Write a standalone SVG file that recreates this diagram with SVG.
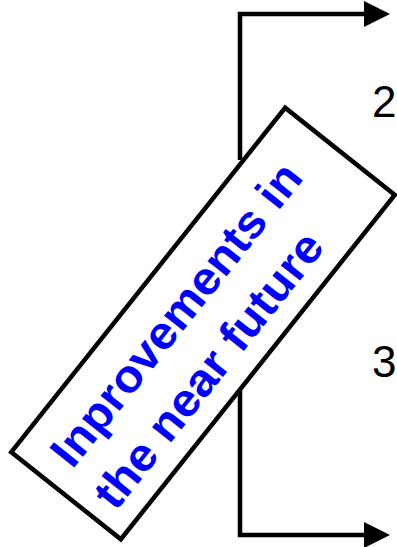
<svg xmlns="http://www.w3.org/2000/svg" width="397" height="547" viewBox="0 0 397 547">
<style>
.ln{fill:none;stroke:#000;stroke-width:4.5;stroke-linejoin:miter}
.box{fill:#fff;stroke:#000;stroke-width:4.5}
.lbl{font-family:"Liberation Sans",Arial,sans-serif;font-size:44px;fill:#000}
.bt{font-family:"Liberation Sans",Arial,sans-serif;font-size:46px;font-weight:bold;fill:#0000ff}
</style>
<defs>
<marker id="ah" markerUnits="userSpaceOnUse" markerWidth="27" markerHeight="26" refX="1" refY="13" orient="auto">
<path d="M0,0 L26,13 L0,26 Z" fill="#000"/>
</marker>
</defs>
<g id="connectors">
<path class="ln" d="M240,160 V14 H365" marker-end="url(#ah)"/>
<path class="ln" d="M240,390 V535 H365" marker-end="url(#ah)"/>
</g>
<g id="label2"><text class="lbl" x="372" y="117">2</text></g>
<g id="label3"><text class="lbl" x="372" y="377">3</text></g>
<g id="box" transform="translate(203,323.5) rotate(-51.5)">
<rect class="box" x="-220" y="-70" width="440" height="140"/>
<g transform="scale(1.05,1)">
<text class="bt" x="-186.7" y="-11">Inprovements in</text>
<text class="bt" x="-192.4" y="49">the near future</text>
</g>
</g>
</svg>
